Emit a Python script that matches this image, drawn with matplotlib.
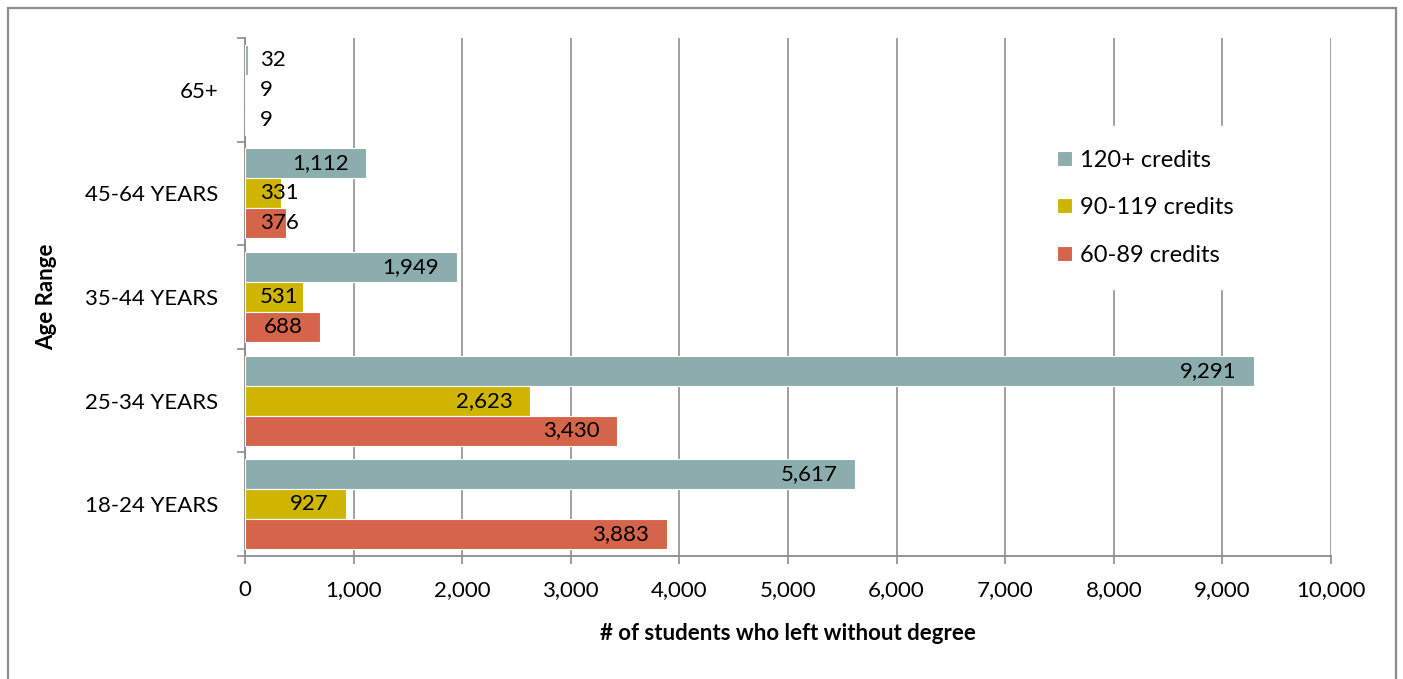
import numpy as np
import matplotlib.pyplot as plt
from matplotlib.patches import Rectangle

age_groups = ["18-24 YEARS", "25-34 YEARS", "35-44 YEARS", "45-64 YEARS", "65+"]
credits_120 = [5617, 9291, 1949, 1112, 32]
credits_90 = [927, 2623, 531, 331, 9]
credits_60 = [3883, 3430, 688, 376, 9]
series_names = ["120+ credits", "90-119 credits", "60-89 credits"]
colors = ["#8cadae", "#cfb500", "#d4654a"]

plt.rcParams['font.family'] = ['Lato', 'DejaVu Sans']
fs = 16

fig = plt.figure(figsize=(14.03, 6.79), dpi=100)
ax = fig.add_axes([245/1403, 1-556/679, (1331-245)/1403, (556-38)/679])

# outer chart border
fig.patches.append(Rectangle((8/1403, -0.05), (1396-8)/1403, 1.05 - 8/679,
                             transform=fig.transFigure, fill=False,
                             edgecolor="#8c8c8c", linewidth=1.6))

y = np.arange(len(age_groups))
h = 0.289
offsets = [h, 0, -h]
all_series = [credits_120, credits_90, credits_60]

for vals, off, col, name in zip(all_series, offsets, colors, series_names):
    ax.barh(y + off, vals, height=h, color=col, edgecolor="white",
            linewidth=0.8, label=name, zorder=3)
    for yi, v in zip(y, vals):
        if v > 650:
            ax.text(v - 160, yi + off, f"{v:,}", ha="right", va="center",
                    fontsize=fs, zorder=4)
        else:
            ax.text(140, yi + off, f"{v:,}", ha="left", va="center",
                    fontsize=fs, zorder=4)

ax.set_xlim(0, 10000)
ax.set_ylim(-0.5, 4.5)
ax.set_xticks(np.arange(0, 10001, 1000))
ax.set_xticklabels([f"{v:,}" for v in range(0, 10001, 1000)])
ax.set_yticks(y)
ax.set_yticklabels(age_groups)
ax.set_yticks(np.arange(-0.5, 4.6, 1), minor=True)

ax.tick_params(axis="y", which="major", length=0, pad=19, labelsize=fs)
ax.tick_params(axis="y", which="minor", length=6, width=1.2, color="#8c8c8c")
ax.tick_params(axis="x", length=6, width=1.2, color="#8c8c8c", pad=11, labelsize=fs)

ax.grid(axis="x", color="#999999", linewidth=1.3, zorder=0)
ax.set_axisbelow(True)
for s in ["top", "right"]:
    ax.spines[s].set_visible(False)
for s in ["left", "bottom"]:
    ax.spines[s].set_color("#8c8c8c")
    ax.spines[s].set_linewidth(1.3)

ax.set_xlabel("# of students who left without degree", fontsize=fs,
              fontweight="bold", labelpad=17)
ax.set_ylabel("Age Range", fontsize=fs, fontweight="bold", labelpad=20)

leg = ax.legend(loc="upper left", bbox_to_anchor=(0.726, 0.83), frameon=True,
                fontsize=17, handlelength=0.62, handleheight=0.62,
                labelspacing=1.12, borderpad=1.0, handletextpad=0.35,
                borderaxespad=0)
leg.get_frame().set_edgecolor("white")
leg.get_frame().set_facecolor("white")
leg.get_frame().set_boxstyle("square", pad=0)
leg.get_frame().set_alpha(1)

fig.savefig("out.png", dpi=100)
